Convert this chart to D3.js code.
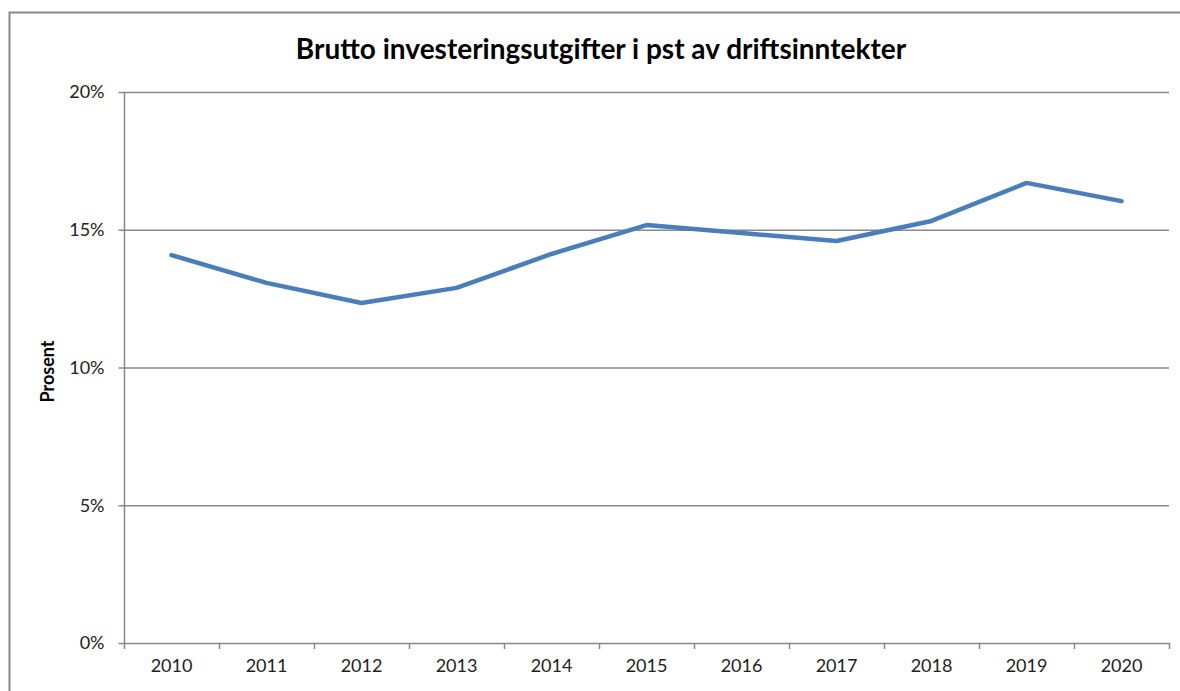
<!DOCTYPE html>
<html><head><meta charset="utf-8">
<script src="https://cdn.jsdelivr.net/npm/d3@7"></script>
<style>body{margin:0;background:#fff}svg{display:block}</style>
</head><body>
<svg id="c" width="1180" height="691"></svg>
<script>
const years = ["2010","2011","2012","2013","2014","2015","2016","2017","2018","2019","2020"];
const values = [14.08, 13.07, 12.34, 12.89, 14.12, 15.17, 14.88, 14.59, 15.32, 16.70, 16.04];
const yTicks = [0, 5, 10, 15, 20];
const title = "Brutto investeringsutgifter i pst av driftsinntekter";
const yLabel = "Prosent";

const svg = d3.select("#c");
const mLeft = 124, mRight = 1169, mTop = 92, mBottom = 643;
const font = "Lato, 'Open Sans', sans-serif";

// outer border
svg.append("rect").attr("x", 9.5).attr("y", 12.5).attr("width", 1200).attr("height", 700)
  .attr("fill", "none").attr("stroke", "#888").attr("stroke-width", 2);

const x = d3.scaleBand().domain(years).range([mLeft, mRight]).padding(0);
const y = d3.scaleLinear().domain([0, 20]).range([mBottom, mTop]);

// gridlines
svg.append("g").selectAll("line").data(yTicks.filter(d => d > 0)).join("line")
  .attr("x1", mLeft).attr("x2", mRight)
  .attr("y1", d => y(d) + 0.5).attr("y2", d => y(d) + 0.5)
  .attr("stroke", "#888").attr("stroke-width", 1.5);

// y axis
const ya = svg.append("g").attr("transform", `translate(${mLeft + 0.5},0)`)
  .call(d3.axisLeft(y).tickValues(yTicks).tickFormat(d => d + "%").tickSize(6).tickPadding(14));
ya.select(".domain").attr("stroke", "#888").attr("stroke-width", 1.5).attr("d", `M0,${mTop}V${mBottom}`);
ya.selectAll(".tick line").attr("stroke", "#888").attr("stroke-width", 1.5);
ya.selectAll("text").attr("font-family", font).attr("font-size", 18).attr("fill", "#222");

// x axis
const xa = svg.append("g").attr("transform", `translate(0,${mBottom + 0.5})`)
  .call(d3.axisBottom(x).tickSize(0).tickPadding(16));
xa.select(".domain").attr("stroke", "#888").attr("stroke-width", 1.5).attr("d", `M${mLeft},0H${mRight}`);
xa.selectAll("text").attr("font-family", font).attr("font-size", 18).attr("fill", "#222");
// category boundary ticks
svg.append("g").selectAll("line").data(years.concat(["end"])).join("line")
  .attr("x1", (d, i) => mLeft + i * x.bandwidth() + 0.5)
  .attr("x2", (d, i) => mLeft + i * x.bandwidth() + 0.5)
  .attr("y1", mBottom).attr("y2", mBottom + 6)
  .attr("stroke", "#888").attr("stroke-width", 1.5);

// line
const line = d3.line().x((d, i) => x(years[i]) + x.bandwidth() / 2).y(d => y(d));
svg.append("path").datum(values).attr("d", line)
  .attr("fill", "none").attr("stroke", "#4a7ebb").attr("stroke-width", 4.5)
  .attr("stroke-linejoin", "round").attr("stroke-linecap", "round");

// title
svg.append("text").attr("x", 601).attr("y", 59).attr("text-anchor", "middle")
  .attr("font-family", font).attr("font-weight", "bold").attr("font-size", 28).attr("fill", "#000")
  .text(title);

// y label
svg.append("text").attr("transform", `translate(54,${(mTop + mBottom) / 2 + 4}) rotate(-90)`)
  .attr("text-anchor", "middle").attr("font-family", font).attr("font-weight", "bold")
  .attr("font-size", 18).attr("fill", "#000").text(yLabel);
</script>
</body></html>
